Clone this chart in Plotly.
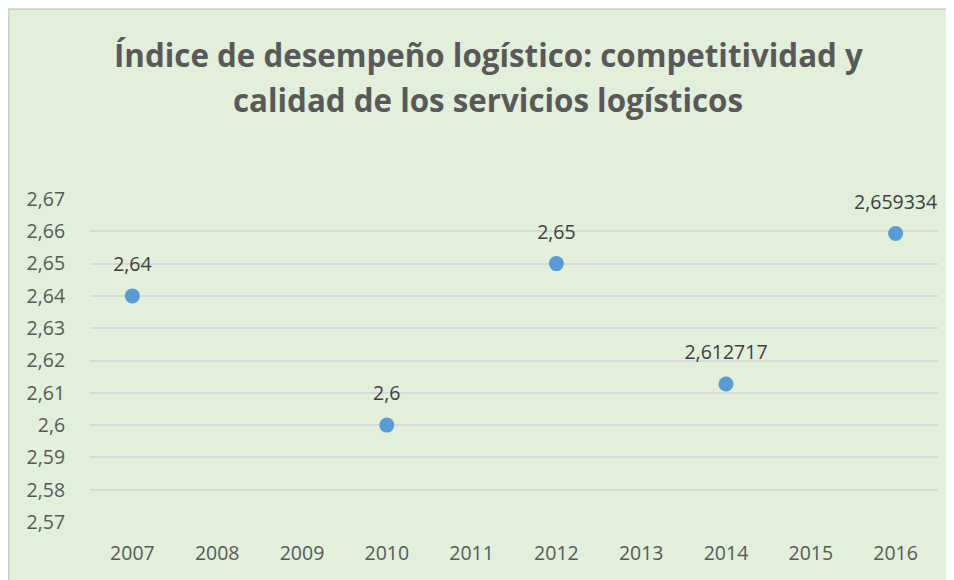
import plotly.graph_objects as go

years = ["2007", "2008", "2009", "2010", "2011", "2012", "2013", "2014", "2015", "2016"]
values = [2.64, None, None, 2.6, None, 2.65, None, 2.612717, None, 2.659334]
labels = ["2,64", "", "", "2,6", "", "2,65", "", "2,612717", "", "2,659334"]
ytick_vals = [2.57, 2.58, 2.59, 2.60, 2.61, 2.62, 2.63, 2.64, 2.65, 2.66, 2.67]
ytick_text = ["2,57", "2,58", "2,59", "2,6", "2,61", "2,62", "2,63", "2,64", "2,65", "2,66", "2,67"]
title_lines = ["Índice de desempeño logístico: competitividad y",
               "calidad de los servicios logísticos"]

FONT = "Open Sans"
BG = "#E2EFDA"

# page body has an 8px margin, so the figure is laid out smaller
W, H = 938, 572
ml, mr, mt, mb = 82, 8, 191, 58
pw, ph = W - ml - mr, H - mt - mb

fig = go.Figure()
# data labels (invisible larger marker pushes the text above the point)
fig.add_trace(go.Scatter(
    x=years, y=values, mode="markers+text", text=labels,
    textposition="top center",
    textfont=dict(family=FONT, size=19.5, color="#404040"),
    marker=dict(color="rgba(0,0,0,0)", size=30),
    hoverinfo="skip", showlegend=False, cliponaxis=False,
))
fig.add_trace(go.Scatter(
    x=years, y=values, mode="markers",
    marker=dict(color="#5B9BD5", size=15),
    hoverinfo="skip", showlegend=False, cliponaxis=False,
))

def px_to_paper_x(px):
    return (px - ml) / pw

def px_to_paper_y(py):
    return (H - mb - py) / ph

fig.add_shape(type="rect", xref="paper", yref="paper", layer="below",
              x0=px_to_paper_x(0.75), x1=px_to_paper_x(W + 20),
              y0=px_to_paper_y(H + 20), y1=px_to_paper_y(1.25),
              fillcolor=BG, line=dict(color="#D0D0D0", width=1.5))

for line, ypx in zip(title_lines, [47, 92]):
    fig.add_annotation(text=line, showarrow=False, xref="paper", yref="paper",
                       x=px_to_paper_x(480), y=px_to_paper_y(ypx),
                       xanchor="center", yanchor="middle",
                       font=dict(family=FONT, size=31.3, color="#595959", weight="bold"))

fig.update_layout(
    width=W, height=H,
    margin=dict(l=ml, r=mr, t=mt, b=mb),
    paper_bgcolor=BG, plot_bgcolor=BG,
    xaxis=dict(type="category", categoryorder="array", categoryarray=years,
               range=[-0.5, 9.5], showgrid=False, showline=False, zeroline=False,
               automargin=False,
               tickfont=dict(family=FONT, size=19.5, color="#595959"),
               ticks="outside", ticklen=14, tickcolor="rgba(0,0,0,0)"),
    yaxis=dict(range=[2.57, 2.67], tickvals=ytick_vals, ticktext=ytick_text,
               showgrid=True, gridcolor="#D9D9D9", gridwidth=1.5,
               zeroline=False, showline=False, automargin=False,
               tickfont=dict(family=FONT, size=19.5, color="#595959"),
               ticks="outside", ticklen=20, tickcolor="rgba(0,0,0,0)"),
    font=dict(family=FONT),
)

fig.write_html("out.html")
